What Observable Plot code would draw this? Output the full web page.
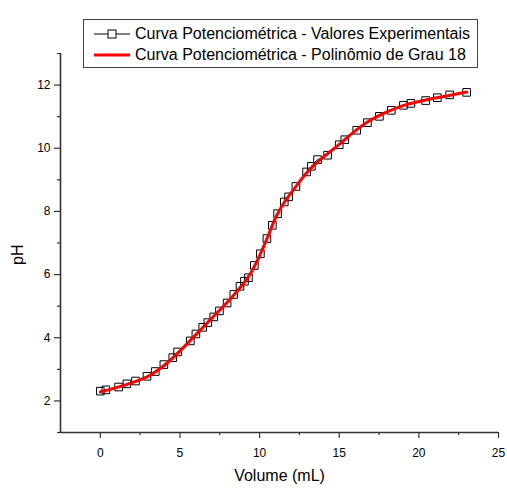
<!DOCTYPE html>
<html>
<head>
<meta charset="utf-8">
<script src="https://cdn.jsdelivr.net/npm/d3@7"></script>
<script src="https://cdn.jsdelivr.net/npm/@observablehq/plot@0.6"></script>
<style>
  html, body { margin: 0; padding: 0; background: white; }
  #wrap { position: relative; width: 507px; height: 490px; font-family: "Liberation Sans", Arial, sans-serif; }
  #legend { position: absolute; left: 83px; top: 19px; width: 395px; height: 49px; box-sizing: border-box;
            border: 1px solid #444; background: white; }
  .row { position: absolute; left: 0; height: 20px; display: flex; align-items: center; font-size: 16px; color: #000; white-space: nowrap; }
  .row svg { display: block; margin-left: 10px; margin-right: 5px; }
</style>
</head>
<body>
<div id="wrap"></div>
<script>
// Experimental data (Volume in mL, pH)
const volumes = [0, 0.35, 1.15, 1.67, 2.21, 2.93, 3.45, 3.99, 4.55, 4.85, 5.65, 6.0, 6.43, 6.75, 7.12, 7.48, 7.96, 8.38, 8.77, 9.05, 9.3, 9.67, 10.05, 10.46, 10.8, 11.13, 11.55, 11.82, 12.28, 12.95, 13.25, 13.64, 14.27, 15.0, 15.35, 16.1, 16.77, 17.52, 18.27, 19.03, 19.5, 20.43, 21.16, 21.93, 23.0];
const phValues = [2.31, 2.35, 2.44, 2.54, 2.63, 2.78, 2.93, 3.15, 3.37, 3.55, 3.90, 4.12, 4.33, 4.48, 4.66, 4.85, 5.10, 5.37, 5.63, 5.79, 5.90, 6.29, 6.66, 7.14, 7.56, 7.93, 8.30, 8.46, 8.79, 9.25, 9.43, 9.64, 9.78, 10.11, 10.27, 10.57, 10.81, 11.01, 11.20, 11.36, 11.42, 11.51, 11.60, 11.69, 11.77];
// Polynomial fit curve
const fitVolumes = [0, 1, 2, 3, 4, 5, 6, 7, 8, 9, 9.5, 10, 10.5, 11, 11.5, 12, 13, 14, 15, 16, 17, 18, 19, 20, 21, 22, 23];
const fitPh = [2.28, 2.42, 2.58, 2.78, 3.12, 3.58, 4.10, 4.62, 5.14, 5.72, 6.10, 6.60, 7.18, 7.80, 8.25, 8.60, 9.25, 9.72, 10.12, 10.55, 10.90, 11.15, 11.35, 11.48, 11.59, 11.68, 11.78];
const xTicks = [0, 5, 10, 15, 20, 25];
const xMinor = [2.5, 7.5, 12.5, 17.5, 22.5];
const yTicks = [2, 4, 6, 8, 10, 12];
const yMinor = [1, 3, 5, 7, 9, 11, 13];
const legendLabels = ["Curva Potenciométrica - Valores Experimentais", "Curva Potenciométrica - Polinômio de Grau 18"];

const data = volumes.map((v, i) => ({v, ph: phValues[i]}));
const fit = fitVolumes.map((v, i) => ({v, ph: fitPh[i]}));
const axisColor = "#333";

const chart = Plot.plot({
  width: 507, height: 490,
  marginLeft: 60, marginRight: 9, marginTop: 53, marginBottom: 58,
  x: {domain: [-2.5, 25]},
  y: {domain: [1, 13]},
  style: {fontFamily: "'Liberation Sans', Arial, sans-serif", fontSize: "12px", background: "white", color: "black"},
  marks: [
    Plot.axisX(xMinor, {tickSize: 3, tickFormat: () => "", label: null, stroke: axisColor, strokeWidth: 1.2}),
    Plot.axisX(xTicks, {tickSize: 6, tickPadding: 10, label: null, stroke: axisColor, strokeWidth: 1.2, fill: "black"}),
    Plot.axisY(yMinor, {tickSize: 3, tickFormat: () => "", label: null, stroke: axisColor, strokeWidth: 1.2}),
    Plot.axisY(yTicks, {tickSize: 6, tickPadding: 4, label: null, stroke: axisColor, strokeWidth: 1.2, fill: "black"}),
    Plot.ruleY([1], {stroke: axisColor, strokeWidth: 1.6}),
    Plot.ruleX([-2.5], {stroke: axisColor, strokeWidth: 1.6}),
    Plot.line(data, {x: "v", y: "ph", stroke: "black", strokeWidth: 1}),
    Plot.dot(data, {x: "v", y: "ph", symbol: "square", r: 4.3, stroke: "black", strokeWidth: 1, fill: "none"}),
    Plot.line(fit, {x: "v", y: "ph", curve: "catmull-rom", stroke: "#ff0000", strokeWidth: 3}),
    Plot.text(["Volume (mL)"], {frameAnchor: "bottom", dy: 48, fontSize: 16, fill: "black"}),
    Plot.text(["pH"], {frameAnchor: "left", dx: -43, dy: 22, rotate: -90, fontSize: 16, fill: "black"})
  ]
});

const wrap = document.getElementById("wrap");
wrap.appendChild(chart);

const legend = document.createElement("div");
legend.id = "legend";
legend.innerHTML = `
  <div class="row" style="top:4px">
    <svg width="36" height="12"><line x1="0" y1="6" x2="36" y2="6" stroke="black" stroke-width="1"/><rect x="14" y="2" width="8" height="8" fill="white" stroke="black" stroke-width="1"/></svg>
    <span>${legendLabels[0]}</span>
  </div>
  <div class="row" style="top:25px">
    <svg width="36" height="12"><line x1="0" y1="6" x2="36" y2="6" stroke="#ff0000" stroke-width="3"/></svg>
    <span>${legendLabels[1]}</span>
  </div>`;
wrap.appendChild(legend);
</script>
</body>
</html>
